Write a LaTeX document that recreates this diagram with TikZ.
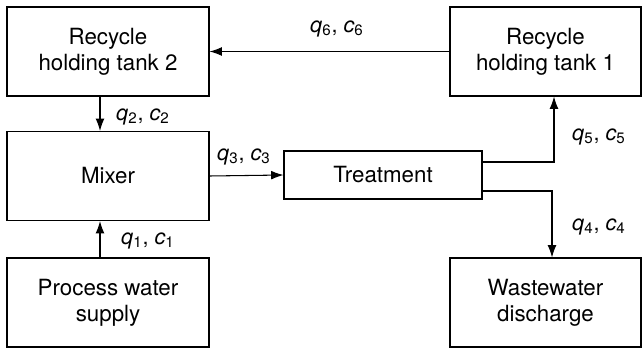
\documentclass[tikz,border=0pt]{standalone}
\usepackage{fontspec}
\setmainfont{TeX Gyre Heros}
\usetikzlibrary{arrows.meta}
\newcommand{\flow}[1]{\textit{q}\textsubscript{#1}, \textit{c}\textsubscript{#1}}

\begin{document}
\begin{tikzpicture}[x=0.02cm, y=-0.02cm, line width=0.6pt,
    unit/.style={draw, align=center, inner sep=0pt,
      minimum width=4.04cm, minimum height=1.78cm,
      font=\fontsize{12.7}{15}\selectfont},
    flowlabel/.style={inner sep=0pt, font=\fontsize{12.3}{14}\selectfont},
    arr/.style={-{Latex[length=7pt, width=5pt]}} ]
    \useasboundingbox (0,0) rectangle (642,348);
    \node [unit] at (108,51.5) (R2) {Recycle\\holding tank 2};
    \node [unit] at (108,176) (M) {Mixer};
    \node [unit] at (108,302.5) (P) {Process water\\supply};
    \node [unit, minimum width=3.96cm, minimum height=0.96cm] at (383,175) (T) {Treatment};
    \node [unit, minimum width=3.82cm] at (545.5,51.5) (R1) {Recycle\\holding tank 1};
    \node [unit, minimum width=3.82cm] at (545.5,302.5) (W) {Wastewater\\discharge};
    \draw [arr] (R1.west) to (R2.east);
    \draw [arr] ([xshift=-0.16cm]R2.south) to ([xshift=-0.16cm]M.north);
    \draw [arr] ([xshift=-0.16cm]P.north) to ([xshift=-0.16cm]M.south);
    \draw [arr] (M.east) to (T.west);
    \draw [arr] ([yshift=0.26cm]T.east) -| ([xshift=0.17cm]R1.south);
    \draw [arr] ([yshift=-0.32cm]T.east) -| ([xshift=0.13cm]W.north);
    \node [flowlabel] at (337,29) (l6) {\flow{6}};
    \node [flowlabel] at (143,117) (l2) {\flow{2}};
    \node [flowlabel] at (244,157) (l3) {\flow{3}};
    \node [flowlabel] at (599,137) (l5) {\flow{5}};
    \node [flowlabel] at (599,227) (l4) {\flow{4}};
    \node [flowlabel] at (148,241) (l1) {\flow{1}};
\end{tikzpicture}
\end{document}
